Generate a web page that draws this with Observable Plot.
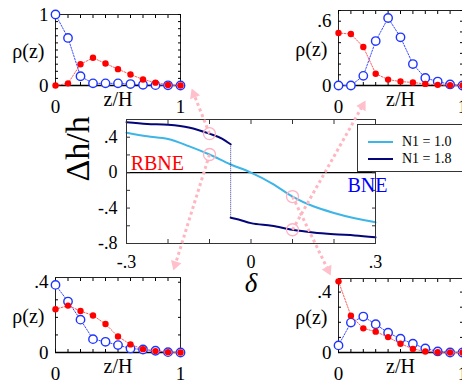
<!DOCTYPE html>
<html><head><meta charset="utf-8">
<script src="https://cdn.jsdelivr.net/npm/d3@7"></script>
<script src="https://cdn.jsdelivr.net/npm/@observablehq/plot@0.6"></script>
<style>
html,body{margin:0;padding:0;background:#fff;}
#c{position:relative;width:462px;height:387px;overflow:hidden;font-family:"Liberation Serif",serif;}
#c svg{position:absolute;max-width:none;}
#c svg text{font-family:"Liberation Serif","Times New Roman",serif !important;}
#leg{position:absolute;left:357px;top:124px;width:130px;height:46px;border:1.5px solid #333;background:#fff;}
#leg .ln{position:absolute;left:10px;width:25px;height:2px;}
#leg .t{position:absolute;left:44px;font-size:14px;line-height:16px;color:#000;white-space:nowrap;}
</style></head><body><div id="c"></div>
<script>
// ---------- main panel data ----------
const lightDelta = [-0.3,-0.25,-0.2,-0.15,-0.1,-0.05,0,0.05,0.1,0.15,0.2,0.25,0.3];
const lightDh    = [0.45,0.41,0.38,0.30,0.205,0.095,0,-0.12,-0.27,-0.38,-0.455,-0.515,-0.56];
const darkUpDelta = [-0.3,-0.25,-0.2,-0.15,-0.1,-0.07,-0.049];
const darkUpDh    = [0.57,0.55,0.54,0.51,0.44,0.385,0.32];
const darkLoDelta = [-0.049,-0.03,0,0.05,0.1,0.15,0.2,0.25,0.3];
const darkLoDh    = [-0.51,-0.53,-0.57,-0.60,-0.645,-0.675,-0.695,-0.71,-0.73];
const markDelta = [-0.1,-0.1,0.1,0.1];
const markDh    = [0.44,0.205,-0.27,-0.645];
const arrowFrom = [0,1,3,2];
const arrowTipDelta = [-0.143,-0.187,0.276,0.192];
const arrowTipDh    = [0.949,-1.105,0.814,-1.161];
const mainXTicks = [-0.3,0,0.3];
const mainYTicks = [-0.8,-0.4,0,0.4];
const mainXMinor = [-0.3,-0.2,-0.1,0,0.1,0.2,0.3];
const mainYMinor = [-0.8,-0.6,-0.4,-0.2,0,0.2,0.4,0.6];
const regimeLabels = ["RBNE","BNE"];
const regimeDelta = [-0.29,0.2325];
const regimeDh = [0.1,-0.15];
const regimeColor = ["#ff0000","#0000ff"];
const seriesNames = ["N1 = 1.0","N1 = 1.8"];
const seriesColors = ["#3db5e6","#05057a"];

// ---------- inset data ----------
const zVals = [0,0.1,0.2,0.3,0.4,0.5,0.6,0.7,0.8,0.9,1];
const tlBlue = [1.0,0.67,0.13,0.03,0.03,0.03,0.02,0.01,0.005,0.003,0];
const tlRed  = [0,0.03,0.30,0.39,0.31,0.23,0.155,0.085,0.04,0.008,0];
const trBlue = [0,0,0.09,0.415,0.63,0.45,0.2,0.07,0.037,0.01,0];
const trRed  = [0.49,0.48,0.36,0.11,0.055,0.037,0.028,0.015,0.006,0.002,0];
const blBlue = [0.385,0.29,0.187,0.076,0.061,0.042,0.023,0.017,0.01,0.002,0];
const blRed  = [0.246,0.267,0.236,0.211,0.162,0.091,0.046,0.019,0.008,0.002,0];
const brBlue = [0.047,0.198,0.238,0.187,0.131,0.091,0.058,0.027,0.007,0,0];
const brRed  = [0.471,0.244,0.16,0.138,0.102,0.058,0.024,0.007,0.002,0,0];

const fmt = d => d === 0 ? "0" : String(d).replace("0.", ".");
const FONT = '"Liberation Serif", serif';
const c = document.getElementById("c");

// ---------- main plot ----------
const W = 462, H = 387, mL = 126, mR = 87, mT = 119, mB = 144;
const xDom = [-0.3, 0.3], yDom = [-0.8, 0.6];
const pxX = (W - mL - mR) / (xDom[1] - xDom[0]);
const pxY = (H - mT - mB) / (yDom[1] - yDom[0]);

const light = lightDelta.map((d,i)=>({d, v: lightDh[i]}));
const darkUp = darkUpDelta.map((d,i)=>({d, v: darkUpDh[i]}));
const darkLo = darkLoDelta.map((d,i)=>({d, v: darkLoDh[i]}));
const jump = [{x1: darkUp[darkUp.length-1].d, y1: darkUp[darkUp.length-1].v, x2: darkLo[0].d, y2: darkLo[0].v}];
const marks = markDelta.map((d,i)=>({d, v: markDh[i]}));
const regimes = regimeLabels.map((t,i)=>({t, d: regimeDelta[i], v: regimeDh[i], c: regimeColor[i]}));

const heads = arrowFrom.map((f,i)=>{
  const x1 = markDelta[f], y1 = markDh[f], x2 = arrowTipDelta[i], y2 = arrowTipDh[i];
  const sx = (x2-x1)*pxX, sy = -(y2-y1)*pxY, L = Math.hypot(sx,sy);
  const ux = sx/L, uy = sy/L;
  const off = 6.2, back = 8;
  return {x: x2 - ux*off/pxX, y: y2 + uy*off/pxY, a: Math.atan2(ux,-uy)*180/Math.PI,
          x1, y1, x2: x2 - ux*back/pxX, y2: y2 + uy*back/pxY};
});

const none = () => "";
const mainPlot = Plot.plot({
  width: W, height: H, marginLeft: mL, marginRight: mR, marginTop: mT, marginBottom: mB,
  x: {domain: xDom, label: null},
  y: {domain: yDom, label: null},
  style: {background: "transparent", fontFamily: FONT, fontSize: "18px", color: "#000", overflow: "visible"},
  marks: [
    Plot.ruleY([0], {stroke: "#000", strokeWidth: 1.2}),
    Plot.line(light, {x: "d", y: "v", stroke: seriesColors[0], strokeWidth: 2, curve: "monotone-x"}),
    Plot.line(darkUp, {x: "d", y: "v", stroke: seriesColors[1], strokeWidth: 2, curve: "monotone-x"}),
    Plot.line(darkLo, {x: "d", y: "v", stroke: seriesColors[1], strokeWidth: 2, curve: "monotone-x"}),
    Plot.link(jump, {x1: "x1", y1: "y1", x2: "x2", y2: "y2", stroke: seriesColors[1], strokeWidth: 0.8, strokeDasharray: "1,1"}),
    Plot.frame({stroke: "#333"}),
    Plot.axisY({ticks: mainYTicks, tickSize: 0, tickPadding: 9, tickFormat: fmt, label: null, fontSize: 18, fontFamily: FONT}),
    Plot.axisY({ticks: mainYMinor, anchor: "left", tickSize: -4, tickFormat: none, label: null, stroke: "#333"}),
    Plot.axisY({ticks: mainYMinor, anchor: "right", tickSize: -4, tickFormat: none, label: null, stroke: "#333"}),
    Plot.axisX({ticks: mainXTicks, tickSize: 0, tickPadding: 12, tickFormat: fmt, label: null, fontSize: 18, fontFamily: FONT}),
    Plot.axisX({ticks: mainXMinor, anchor: "bottom", tickSize: -4, tickFormat: none, label: null, stroke: "#333"}),
    Plot.axisX({ticks: mainXMinor, anchor: "top", tickSize: -4, tickFormat: none, label: null, stroke: "#333"}),
    Plot.text(regimes, {x: "d", y: "v", text: "t", fill: "c", fontSize: 20, textAnchor: "start", fontFamily: FONT}),
    Plot.dot(marks, {x: "d", y: "v", r: 6, stroke: "#ffb3c3", fill: "none", strokeWidth: 1.3}),
    Plot.link(heads, {x1: "x1", y1: "y1", x2: "x2", y2: "y2", stroke: "#ffb6c1", strokeWidth: 3, strokeDasharray: "3,3"}),
    Plot.dot(heads, {x: "x", y: "y", symbol: "triangle", r: 4, rotate: "a", fill: "#ffc0cb", stroke: "none"}),
    Plot.text(["Δh/h"], {text: d => d, frameAnchor: "left", dx: -48, rotate: -90, fontSize: 34, fontFamily: FONT}),
    Plot.text(["δ"], {text: d => d, frameAnchor: "bottom", dy: 48, fontSize: 27, fontStyle: "italic", fontFamily: FONT})
  ]
});
mainPlot.style.left = "0px"; mainPlot.style.top = "0px";
c.appendChild(mainPlot);

// ---------- legend ----------
const leg = document.createElement("div");
leg.id = "leg";
seriesNames.forEach((n,i)=>{
  const ln = document.createElement("span"); ln.className = "ln";
  ln.style.background = seriesColors[i]; ln.style.top = (16 + i*17) + "px";
  const t = document.createElement("span"); t.className = "t";
  t.style.top = (9 + i*17) + "px"; t.textContent = n;
  leg.appendChild(ln); leg.appendChild(t);
});
c.appendChild(leg);

// ---------- insets ----------
function inset(blue, red, ymax, ytick, pos) {
  const data = zVals.map((z,i)=>({z, b: blue[i], r: red[i]}));
  const yMinor = d3.range(0, ymax + 1e-9, 0.1);
  const xMinor = zVals;
  const p = Plot.plot({
    width: pos.w, height: pos.h,
    marginLeft: pos.mL, marginRight: pos.mR, marginTop: pos.mT, marginBottom: pos.mB,
    x: {domain: [0,1], label: null},
    y: {domain: [0, ymax], label: null},
    style: {background: "transparent", fontFamily: FONT, fontSize: "19px", color: "#000", overflow: "visible"},
    marks: [
      Plot.frame({stroke: "#222"}),
      Plot.ruleY([0], {stroke: "#000", strokeWidth: 1.5}),
      Plot.axisX({ticks: [0,1], tickSize: 0, tickPadding: 14, tickFormat: d => String(d), label: null, fontSize: 19, fontFamily: FONT}),
      Plot.axisY({ticks: [0, ytick], tickSize: 0, tickPadding: 7, tickFormat: fmt, label: null, fontSize: 19, fontFamily: FONT}),
      Plot.axisX({ticks: xMinor, anchor: "bottom", tickSize: -3, tickFormat: none, label: null}),
      Plot.axisX({ticks: xMinor, anchor: "top", tickSize: -3, tickFormat: none, label: null}),
      Plot.axisY({ticks: yMinor, anchor: "left", tickSize: -3, tickFormat: none, label: null}),
      Plot.axisY({ticks: yMinor, anchor: "right", tickSize: -3, tickFormat: none, label: null}),
      Plot.line(data, {x: "z", y: "b", stroke: "#3b4cff", strokeWidth: 1, strokeDasharray: "1.5,1.5"}),
      Plot.dot(data, {x: "z", y: "b", r: 4.2, stroke: "#1f35ff", fill: "#fff", strokeWidth: 1.4}),
      Plot.line(data, {x: "z", y: "r", stroke: "#ff5a5a", strokeWidth: 1, strokeDasharray: "1.5,1.5"}),
      Plot.dot(data, {x: "z", y: "r", r: 3.2, fill: "#ff0000", stroke: "none"}),
      Plot.text(["z/H"], {x: [0.5], text: d => d, frameAnchor: "bottom", dy: 20, fontSize: 20, fontFamily: FONT}),
      Plot.text(["ρ(z)"], {text: d => d, frameAnchor: "left", dx: -11, dy: 2, textAnchor: "end", fontSize: 20, fontFamily: FONT})
    ]
  });
  p.style.left = pos.left + "px"; p.style.top = pos.top + "px";
  c.appendChild(p);
}
inset(tlBlue, tlRed, 1.0, 1, {left: 0, top: 0, w: 200, h: 120, mL: 55, mR: 20, mT: 14, mB: 35});
inset(trBlue, trRed, 0.7, 0.6, {left: 270, top: 0, w: 215, h: 120, mL: 68, mR: 23, mT: 10, mB: 35});
inset(blBlue, blRed, 0.427, 0.4, {left: 0, top: 250, w: 200, h: 137, mL: 55, mR: 20, mT: 27, mB: 35});
inset(brBlue, brRed, 0.49, 0.4, {left: 270, top: 250, w: 215, h: 137, mL: 68, mR: 23, mT: 28, mB: 35});
</script></body></html>
